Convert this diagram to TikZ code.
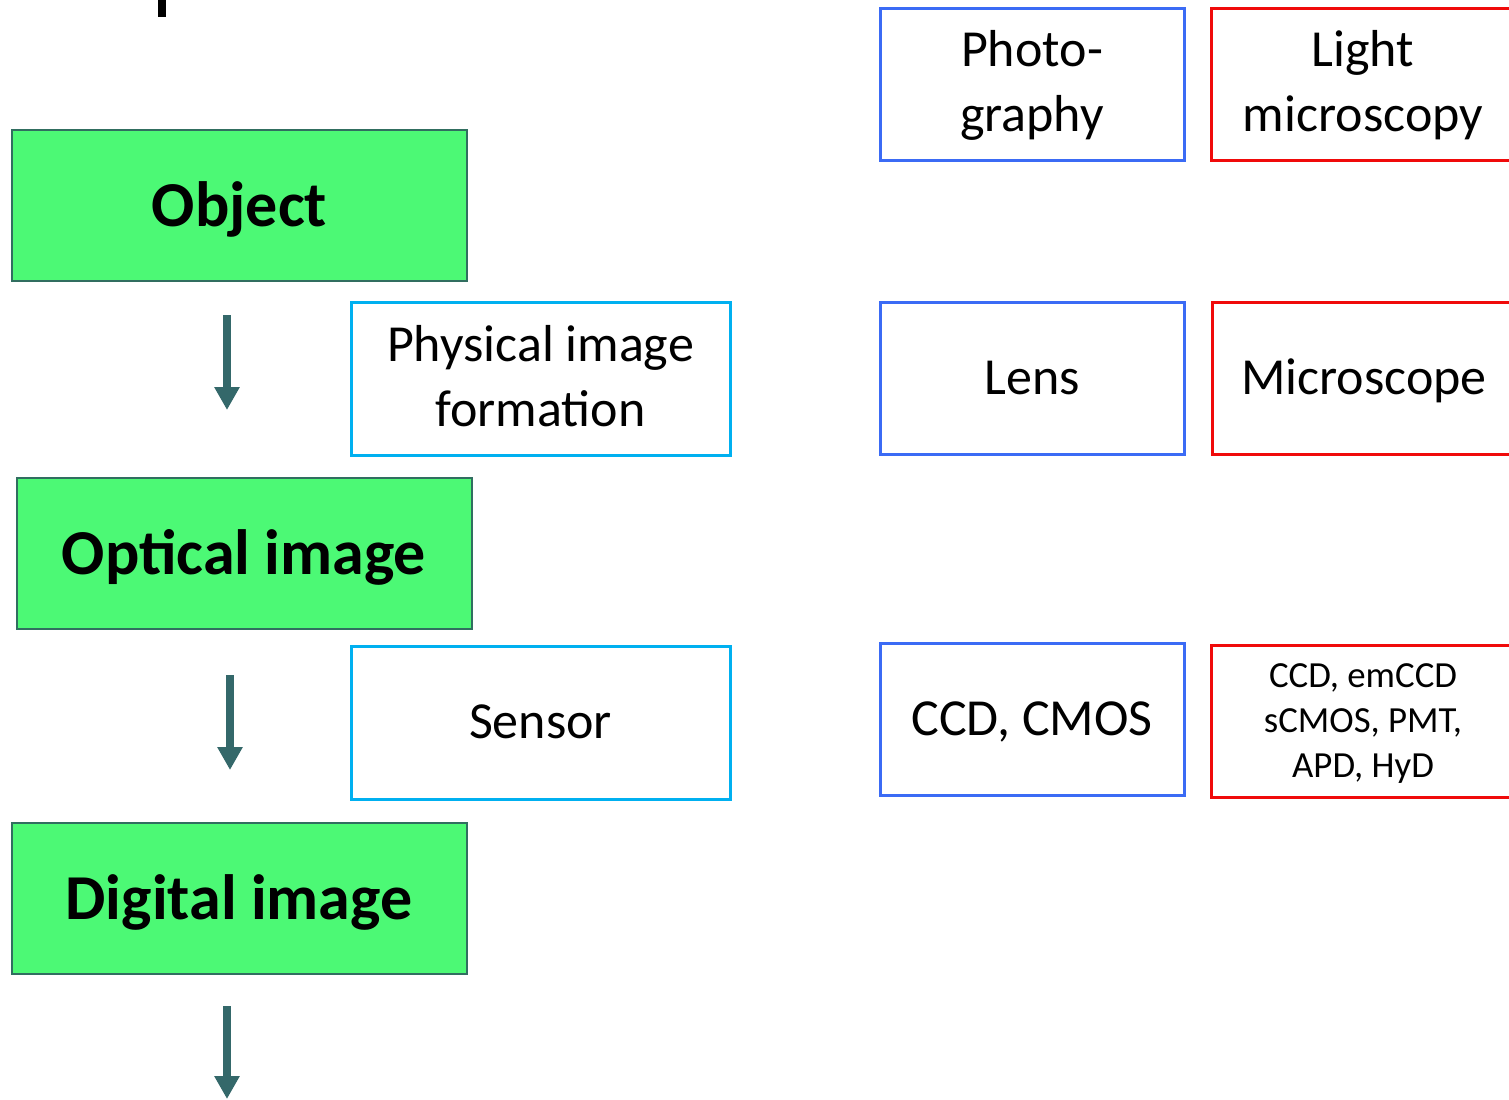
\documentclass[tikz,border=0pt]{standalone}
\usepackage{fontspec}
\setmainfont{Carlito}
\usepackage{tikz}
\usetikzlibrary{positioning}
\usetikzlibrary{arrows.meta}

\definecolor{stepgreen}{RGB}{76,249,117}
\definecolor{stepedge}{RGB}{49,110,96}
\definecolor{arrowteal}{RGB}{52,104,106}
\definecolor{physcyan}{RGB}{0,176,240}
\definecolor{photoblue}{RGB}{59,107,245}
\definecolor{microred}{RGB}{240,10,10}

\tikzset{
  stagebox/.style={draw=stepedge, line width=1pt, fill=stepgreen,
    minimum width=227.5pt, minimum height=75.5pt,
    text height=27pt, text depth=6.5pt,
    font=\bfseries\fontsize{32}{38}\selectfont},
  plainbox/.style={line width=1.5pt, align=center,
    font=\fontsize{26}{32.5}\selectfont},
  oneline/.style={text height=22pt, text depth=6.5pt},
  twoline/.style={text height=52pt, text depth=4.5pt},
  procbox/.style={plainbox, draw=physcyan,
    minimum width=189.5pt, minimum height=76.5pt},
  photobox/.style={plainbox, draw=photoblue,
    minimum width=152pt, minimum height=76pt},
  microbox/.style={plainbox, draw=microred,
    minimum width=152pt, minimum height=76pt},
  flowarrow/.style={draw=arrowteal, line width=4pt,
    -{Triangle[width=12pt,length=11.5pt]}}
}

\begin{document}
\begin{tikzpicture}[x=0.5pt,y=-0.5pt]
        \useasboundingbox (0,0) rectangle (1509,1099);
        \fill[black] (158,0) rectangle (166,17);

        % stages
        \node[stagebox] (obj) at (239.5,205.5) {Object};
        \node[stagebox] (opt) at (244,553.5) {Optical image};
        \node[stagebox] (dig) at (239,898.5) {Digital image};

        % steps
        \node[procbox, twoline] (phys) at (540.5,378.5) {Physical image\\formation};
        \node[procbox, oneline] (sens) at (540.5,723) {Sensor};

        % photography
        \node[photobox, twoline] (photo) at (1032,84) {Photo-\\graphy};
        \node[photobox, oneline] (lens) at (1032,378.5) {Lens};
        \node[photobox, oneline] (cmos) at (1032,719.5) {CCD, CMOS};

        % light microscopy
        \node[microbox, twoline] (light) at (1363,84) {Light\\microscopy};
        \node[microbox, oneline] (scope) at (1364,378.5) {Microscope};
        \node[microbox, font=\fontsize{18.4}{22.3}\selectfont,
          text height=58pt, text depth=1.9pt] (det) at (1363,721)
          {CCD, emCCD\\sCMOS, PMT,\\APD, HyD};

        % arrows
        \coordinate (a1s) at (227,315);
        \coordinate (a1e) at (227,410);
        \coordinate (a2s) at (230,675);
        \coordinate (a2e) at (230,770);
        \coordinate (a3s) at (227,1006);
        \coordinate (a3e) at (227,1099);
        \draw[flowarrow] (a1s) -- (a1e);
        \draw[flowarrow] (a2s) -- (a2e);
        \draw[flowarrow] (a3s) -- (a3e);
      \end{tikzpicture}
\end{document}
